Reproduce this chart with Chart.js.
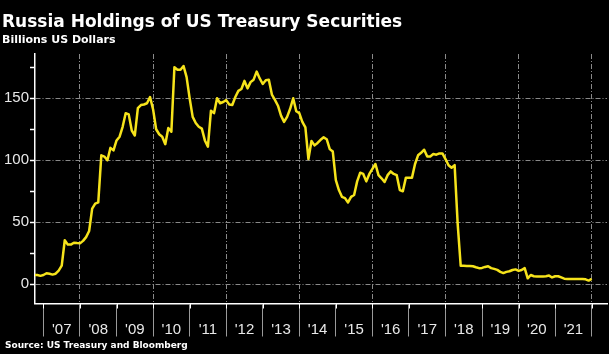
<!DOCTYPE html>
<html>
<head>
<meta charset="utf-8">
<script src="https://cdn.jsdelivr.net/npm/chart.js@4"></script>
<style>
html, body { margin: 0; padding: 0; background: #000; }
#wrap { position: relative; width: 609px; height: 354px; overflow: hidden; background: #000; }
canvas { position: absolute; left: 0; top: 0; }
.txt { position: absolute; color: #fff; font-family: "DejaVu Sans", sans-serif; font-weight: bold; white-space: nowrap; line-height: 1; }
#title { left: 2px; top: 13px; font-size: 17px; }
#sub { left: 2px; top: 34px; font-size: 11px; }
#src { left: 5px; top: 341px; font-size: 9px; }
</style>
</head>
<body>
<div id="wrap">
  <canvas id="chart" width="609" height="354"></canvas>
  <div class="txt" id="title">Russia Holdings of US Treasury Securities</div>
  <div class="txt" id="sub">Billions US Dollars</div>
  <div class="txt" id="src">Source: US Treasury and Bloomberg</div>
</div>
<script>
// monthly values, Sep 2006 .. Dec 2021 (billions USD)
const firstYear = 2006;
const firstMonth = 9;
const holdings = [
  7.5, 7.5, 6.8, 7.5,
  8.9, 8.5, 7.8, 8.5, 11, 15, 35.5, 32, 32, 33.5, 33.2, 33,
  35, 38, 43, 61, 65, 66, 104, 103, 100, 110, 108, 116,
  119, 127, 138, 137, 124, 120, 142, 144.5, 145, 146, 151, 141,
  125, 121, 119, 113, 126, 123, 175, 173, 173, 176, 167, 150,
  135, 130, 127, 125.5, 116, 111, 140, 138, 150, 146, 147, 148.5,
  145, 144.6, 151, 156, 157.5, 164, 158, 163, 165, 171.5, 166, 161.5,
  164.5, 165, 153, 148.7, 144, 136, 131, 135, 141.5, 150, 139.5, 138,
  131, 126.5, 101, 115.6, 112, 114, 116.5, 118.5, 117, 109, 107, 84,
  76, 70.5, 69.5, 66, 70.5, 72, 83, 90, 89, 83, 89, 93,
  97, 88, 85.5, 82.5, 88, 91, 89, 88, 76, 75, 86, 86,
  86, 97, 104, 106, 108.5, 103, 103, 105, 104.5, 105.5, 105.5, 101,
  96, 94, 96.1, 48.7, 14.9, 15, 14.8, 14.8, 14.5, 13.7, 13, 13.2,
  14, 14.5, 13, 12.4, 11.6, 10, 9, 10, 10.5, 11.5, 12, 10.8,
  11.5, 13, 4.8, 7.5, 6.5, 6.2, 6.2, 6.2, 6.5, 7, 5.5, 6.5,
  6.5, 5.5, 4.5, 4.3, 4.3, 4.3, 4.2, 4.2, 4.2, 4, 3, 4.3
];

const years = [2007, 2008, 2009, 2010, 2011, 2012, 2013, 2014, 2015, 2016, 2017, 2018, 2019, 2020, 2021];
const yearLabels = ["'07", "'08", "'09", "'10", "'11", "'12", "'13", "'14", "'15", "'16", "'17", "'18", "'19", "'20", "'21"];
const yTicks = [0, 25, 50, 75, 100, 125, 150, 175];
const yLabelled = [0, 50, 100, 150];

const gridGrey = '#8a8a8a';
const labelFont = { family: 'Liberation Sans', size: 15 };

// year boundaries (separators) plus mid-year positions for the labels
const boundaries = years.concat([2022]);
const xTicks = boundaries.concat(years.map(y => y + 0.5));

const points = holdings.map((v, k) => ({ x: firstYear + (firstMonth + k) / 12, y: v }));

// short white stubs where the year separators meet the axis
const axisStubs = {
  id: 'axisStubs',
  afterDraw(chart) {
    const { ctx, scales: { x } } = chart;
    ctx.save();
    ctx.strokeStyle = '#fff';
    ctx.lineWidth = 1;
    boundaries.forEach(y => {
      const px = Math.round(x.getPixelForValue(y)) + 0.5;
      ctx.beginPath();
      ctx.moveTo(px, x.top);
      ctx.lineTo(px, x.top + 5);
      ctx.stroke();
    });
    ctx.restore();
  }
};

new Chart(document.getElementById('chart'), {
  type: 'line',
  data: {
    datasets: [{
      data: points,
      borderColor: '#f6e31b',
      borderWidth: 2.5,
      borderJoinStyle: 'round',
      pointRadius: 0,
      tension: 0
    }]
  },
  options: {
    responsive: false,
    animation: false,
    layout: { padding: { top: 54, right: 2, left: 0, bottom: 0 } },
    plugins: { legend: { display: false }, tooltip: { enabled: false } },
    scales: {
      x: {
        type: 'linear',
        min: 2006.769,
        max: 2022.419,
        afterBuildTicks: s => { s.ticks = xTicks.map(v => ({ value: v })); },
        afterFit: s => { s.height = 50.5; },
        ticks: {
          autoSkip: false,
          maxRotation: 0,
          padding: -16,
          color: '#e8e8e8',
          font: labelFont,
          callback: v => {
            const i = years.indexOf(v - 0.5);
            return i >= 0 ? yearLabels[i] : '';
          }
        },
        grid: {
          color: ctx => {
            const v = ctx.tick ? ctx.tick.value : NaN;
            return Number.isInteger(v) && v % 2 === 0 ? gridGrey : 'transparent';
          },
          tickColor: ctx => {
            const v = ctx.tick ? ctx.tick.value : NaN;
            return Number.isInteger(v) ? '#9a9a9a' : 'transparent';
          },
          tickLength: 33,
          lineWidth: 1
        },
        border: { color: '#fff', width: 1.5, dash: [5, 2, 1, 2] }
      },
      y: {
        min: -15.5,
        max: 185.7,
        afterBuildTicks: s => { s.ticks = yTicks.map(v => ({ value: v })); },
        afterFit: s => { s.width = 35; },
        ticks: {
          padding: 1,
          color: '#e8e8e8',
          font: labelFont,
          callback: v => yLabelled.includes(v) ? String(v) : ''
        },
        grid: {
          color: ctx => (ctx.tick && yLabelled.includes(ctx.tick.value)) ? gridGrey : 'transparent',
          tickColor: '#fff',
          tickLength: 5,
          tickWidth: 1.5,
          lineWidth: 1
        },
        border: { color: '#fff', width: 1.5, dash: [5, 2, 1, 2] }
      }
    }
  },
  plugins: [axisStubs]
});
</script>
</body>
</html>
